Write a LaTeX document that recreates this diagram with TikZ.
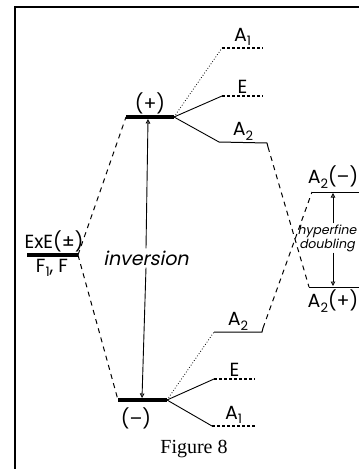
\documentclass[tikz,border=0pt]{standalone}
\usepackage{fontspec}
\setmainfont{Poppins}
\newfontfamily\figfont{Liberation Serif}
\newfontfamily\slantfont[FakeSlant=0.2]{Poppins}
\usetikzlibrary{arrows.meta}
\newcommand{\lsub}[1]{\raisebox{-0.45ex}{\fontsize{13}{13}\selectfont #1}}

\begin{document}
\begin{tikzpicture}[x=1pt, y=-1pt,
    >={Triangle[open, length=4.5pt, width=4.5pt]},
    level/.style={line width=3.5pt},
    sublevel/.style={line width=1pt},
    subdash/.style={line width=1.2pt, dash pattern=on 3pt off 2pt},
    link/.style={line width=0.9pt},
    corr/.style={line width=1pt, dash pattern=on 5pt off 4.5pt},
    fine/.style={line width=0.8pt, dotted},
    lab/.style={font=\fontsize{19}{19}\selectfont, inner sep=1.5pt},
]
    \useasboundingbox (0,0) rectangle (359,469);
    % frame
    \draw[line width=1.3pt] (15,469) -- (15,7) -- (359,7);

    % main levels
    \coordinate (exeL) at (27,255);   \coordinate (exeR) at (78,255);
    \coordinate (plusL) at (126,117); \coordinate (plusR) at (174,117);
    \coordinate (minusL) at (118,400); \coordinate (minusR) at (167,400);
    \draw[level, line width=4.5pt] (exeL) -- (exeR);
    \draw[level] (plusL) -- (plusR);
    \draw[level] (minusL) -- (minusR);
    \node[lab] (exelab) at (54,241) {ExE(±)};
    \node[lab] (flab) at (52,268) {F\lsub{1}, F};
    \node[lab] (pluslab) at (150,103) {(+)};
    \node[lab] (minuslab) at (136,418) {(–)};

    % correlation to the inversion pair
    \draw[corr] (exeR) -- (plusL);
    \draw[corr] (exeR) -- (minusL);

    % inversion
    \coordinate (invT) at (148,119);
    \coordinate (invB) at (142,398);
    \node[font=\slantfont\fontsize{19}{19}\selectfont, inner sep=2pt] (inv) at (146,258) {inversion};
    \draw[link, ->] (inv.north) -- (invT);
    \draw[link, ->] (inv.south) -- (invB);

    % splitting of (+)
    \coordinate (a1uL) at (222,48);  \coordinate (a1uR) at (263,48);
    \coordinate (euL) at (222,96);   \coordinate (euR) at (263,96);
    \coordinate (a2uL) at (219,142); \coordinate (a2uR) at (267,143);
    \draw[fine] (plusR) -- (a1uL);
    \draw[link] (plusR) -- (euL);
    \draw[link] (plusR) -- (a2uL);
    \draw[subdash] (a1uL) -- node[lab, above] (a1ulab) {A\lsub{1}} (a1uR);
    \draw[subdash] (euL) -- node[lab, above] (eulab) {E} (euR);
    \draw[sublevel] (a2uL) -- node[lab, above] (a2ulab) {A\lsub{2}} (a2uR) -- ++(1,4) coordinate (a2uT);

    % splitting of (-)
    \coordinate (a2lL) at (214,332); \coordinate (a2lR) at (262,332);
    \coordinate (elL) at (214,379);  \coordinate (elR) at (255,379);
    \coordinate (a1lL) at (212,426); \coordinate (a1lR) at (255,426);
    \draw[fine] (minusR) -- (a2lL);
    \draw[link] (minusR) -- (elL);
    \draw[link] (minusR) -- (a1lL);
    \draw[sublevel] (a2lL) -- node[lab, above] (a2llab) {A\lsub{2}} (a2lR) -- ++(1,-4) coordinate (a2lT);
    \draw[subdash] (elL) -- node[lab, above] (ellab) {E} (elR);
    \draw[subdash] (a1lL) -- node[lab, above] (a1llab) {A\lsub{1}} (a1lR);

    % hyperfine doublet
    \coordinate (hmL) at (312,192); \coordinate (hmR) at (362,192);
    \coordinate (hpL) at (309,287); \coordinate (hpR) at (362,287);
    \draw[sublevel] (hmL) -- (hmR);
    \draw[sublevel] (hpL) -- (hpR);
    \node[lab] (hmlab) at (333,177) {A\lsub{2}(–)};
    \node[lab] (hplab) at (333,301) {A\lsub{2}(+)};
    \draw[corr] (a2uT) -- (hpL);
    \draw[corr] (a2lT) -- (hmL);
    \coordinate (hfT) at (333,193);
    \coordinate (hfB) at (333,286);
    \node[font=\slantfont\fontsize{12.5}{14}\selectfont, align=center, inner sep=1pt] (hf) at (327,238) {hyperfine\\doubling};
    \draw[link, ->] (hf.north -| hfT) -- (hfT);
    \draw[link, ->] (hf.south -| hfB) -- (hfB);

    \node[font=\figfont\fontsize{20}{20}\selectfont] (cap) at (194,449) {Figure 8};
\end{tikzpicture}
\end{document}
